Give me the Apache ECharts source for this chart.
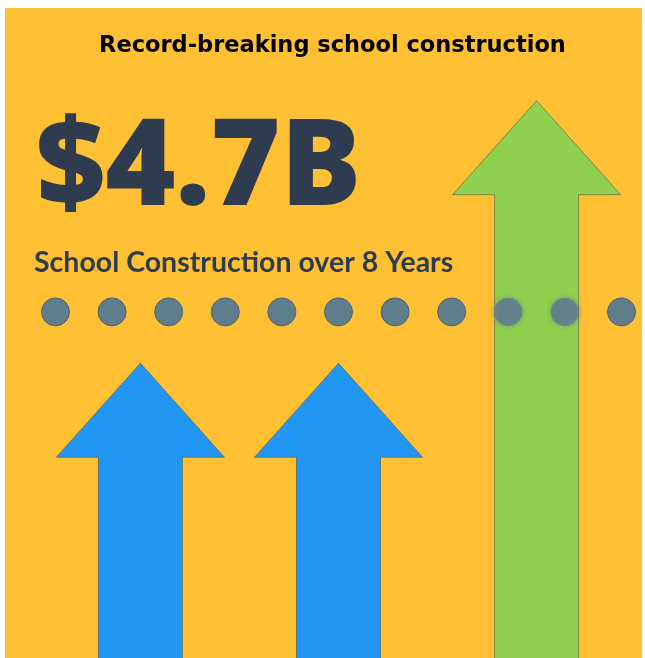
<!DOCTYPE html>
<html>
<head>
<meta charset="utf-8">
<script src="https://cdn.jsdelivr.net/npm/echarts@6/dist/echarts.min.js"></script>
<style>
html,body{margin:0;padding:0;background:#fff;}
#chart{width:645px;height:658px;}
</style>
</head>
<body>
<div id="chart"></div>
<script>
// ---- data ----
const titleText = 'Record-breaking school construction';
const headlineValue = '$4.7B';
const subtitleText = 'School Construction over 8 Years';
// dot row: 11 markers (positions 0..10), at a common level
const dotPositions = [0, 1, 2, 3, 4, 5, 6, 7, 8, 9, 10];
const dotLevel = 52.6;
// arrows: position along the dot row and height of arrow tip
const arrowPositions = [1.5, 5, 8.5];
const arrowValues = [44.8, 44.8, 84.7];
const arrowKinds = ['blue', 'blue', 'green'];

// ---- styles ----
const colors = { blue: '#2196F3', green: '#8fd14f' };

const chart = echarts.init(document.getElementById('chart'), null, { renderer: 'canvas' });

const arrowData = arrowPositions.map((p, i) => [p, arrowValues[i], i]);
const dotData = dotPositions.map(p => [p, dotLevel]);

const option = {
  animation: false,
  backgroundColor: '#ffffff',
  grid: { left: 0, right: 0, top: 0, bottom: 0 },
  xAxis: { type: 'value', min: -0.98, max: 10.415, show: false },
  yAxis: { type: 'value', min: 0, max: 100, show: false },
  graphic: [
    { type: 'rect', z: -10, silent: true,
      shape: { x: 5, y: 8, width: 637, height: 650 },
      style: { fill: '#FFC133' } },
    { type: 'text', z: 100, silent: true,
      style: { x: 332.5, y: 35, text: titleText, fill: '#000',
        font: 'bold 22.5px "DejaVu Sans"', align: 'center', verticalAlign: 'top' } },
    { type: 'text', z: 100, silent: true,
      style: { x: 36, y: 110.5, text: headlineValue, fill: '#2f3b4f',
        font: '800 120px "Open Sans"', align: 'left', verticalAlign: 'top' } },
    { type: 'text', z: 100, silent: true,
      style: { x: 34, y: 248.5, text: subtitleText, fill: '#2f3b4f',
        font: 'bold 28.5px Lato', align: 'left', verticalAlign: 'top' } }
  ],
  series: [
    {
      type: 'custom',
      z: 2,
      data: arrowData,
      renderItem: function (params, api) {
        const x = api.value(0), v = api.value(1), idx = api.value(2);
        const tip = api.coord([x, v]);
        const base = api.coord([x, 0]);
        const hw = 84, sw = 42, hh = 94;
        const cx = tip[0], ty = tip[1], by = base[1] + 2;
        const pts = [
          [cx, ty],
          [cx + hw, ty + hh],
          [cx + sw, ty + hh],
          [cx + sw, by],
          [cx - sw, by],
          [cx - sw, ty + hh],
          [cx - hw, ty + hh]
        ];
        return {
          type: 'polygon',
          shape: { points: pts },
          style: { fill: colors[arrowKinds[idx]], stroke: 'rgba(70,80,80,0.55)', lineWidth: 1 }
        };
      }
    },
    {
      type: 'scatter',
      z: 5,
      symbol: 'circle',
      symbolSize: 28,
      data: dotData.map((d, i) => {
        const inGreen = (d[0] >= 7.6 && d[0] <= 9.4);
        return {
          value: d,
          itemStyle: inGreen
            ? { color: '#647f8c', opacity: 0.9, borderWidth: 0, shadowBlur: 5, shadowColor: 'rgba(96,125,139,0.9)' }
            : { color: '#607D8B', opacity: 1, borderColor: '#4c6372', borderWidth: 1 }
        };
      })
    }
  ]
};
chart.setOption(option);
</script>
</body>
</html>
